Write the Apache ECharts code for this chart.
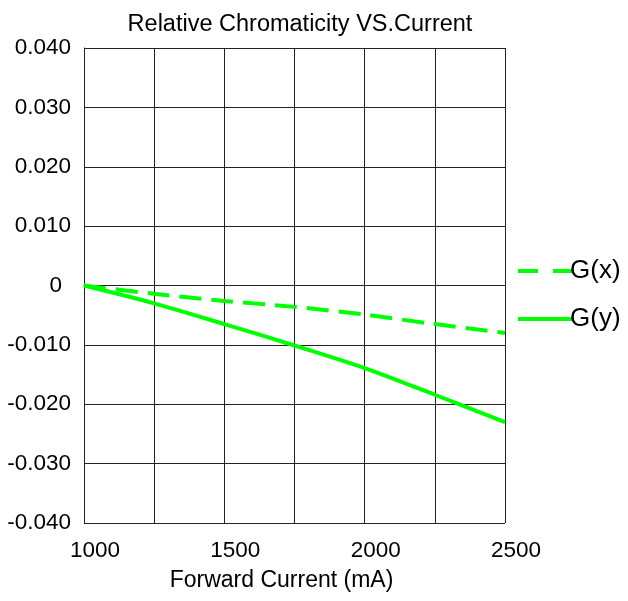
<!DOCTYPE html>
<html>
<head>
<meta charset="utf-8">
<script src="https://cdn.jsdelivr.net/npm/echarts@6/dist/echarts.min.js"></script>
<style>
  html, body { margin: 0; padding: 0; background: #fff; }
  #chart { width: 628px; height: 601px; }
</style>
</head>
<body>
<div id="chart"></div>
<script>
// forward current (mA)
var currents = [1000, 1250, 1500, 1750, 2000, 2250, 2500];
// chromaticity shift
var gx = [0, -0.0014, -0.0026, -0.0036, -0.0049, -0.0065, -0.0080];
var gy = [0, -0.0030, -0.0065, -0.0101, -0.0139, -0.0184, -0.0230];
var seriesNames = ['G(x)', 'G(y)'];

var font = 'Liberation Sans, Arial, sans-serif';
var green = '#00ff00';

function pairs(ys) {
    return currents.map(function (c, i) { return [c, ys[i]]; });
}

var myChart = echarts.init(document.getElementById('chart'));
var option = {
    animation: false,
    title: {
        text: 'Relative Chromaticity VS.Current',
        left: 295,
        textAlign: 'center',
        top: 8,
        textStyle: { fontFamily: font, fontSize: 23.5, fontWeight: 'normal', color: '#000' }
    },
    grid: { left: 84, right: 123, top: 48, bottom: 78 },
    legend: {
        orient: 'vertical',
        left: 513,
        top: 252,
        itemWidth: 55,
        itemHeight: 4,
        itemGap: 20,
        data: [
            { name: seriesNames[0], icon: 'path://M0,0h20v4h-20z M35,0h20v4h-20z' },
            { name: seriesNames[1], icon: 'path://M0,0h55v4h-55z' }
        ],
        itemStyle: { color: green },
        textStyle: { fontFamily: font, fontSize: 26, color: '#000', lineHeight: 28, padding: [0, 0, 0, -8] }
    },
    xAxis: {
        type: 'value',
        min: 1000,
        max: 2500,
        interval: 250,
        name: 'Forward Current (mA)',
        nameLocation: 'middle',
        nameGap: 46,
        nameTextStyle: { fontFamily: font, fontSize: 23, color: '#000', padding: [0, 26, 0, 0] },
        axisLine: { show: true, lineStyle: { color: '#222', width: 1 } },
        axisTick: { show: false },
        splitLine: { show: true, lineStyle: { color: '#222', width: 1 } },
        axisLabel: {
            fontFamily: font, fontSize: 22.5, color: '#000', margin: 16,
            padding: [0, 0, 0, 22],
            formatter: function (v) { return v % 500 === 0 ? String(v) : ''; }
        }
    },
    yAxis: {
        type: 'value',
        min: -0.04,
        max: 0.04,
        interval: 0.01,
        axisLine: { show: true, lineStyle: { color: '#222', width: 1 } },
        axisTick: { show: false },
        splitLine: { show: true, lineStyle: { color: '#222', width: 1 } },
        axisLabel: {
            fontFamily: font, fontSize: 22.5, color: '#000', margin: 13,
            formatter: function (v) {
                if (Math.abs(v) < 1e-9) return '{z|0}';
                return v.toFixed(3);
            },
            rich: {
                z: { fontFamily: font, fontSize: 22.5, color: '#000', padding: [0, 9, 0, 0] }
            }
        }
    },
    series: [
        {
            name: seriesNames[0],
            type: 'line',
            data: pairs(gx),
            symbol: 'none',
            smooth: 0.3,
            lineStyle: { color: green, width: 4, type: [22, 10] },
            itemStyle: { color: green }
        },
        {
            name: seriesNames[1],
            type: 'line',
            data: pairs(gy),
            symbol: 'none',
            smooth: 0.3,
            lineStyle: { color: green, width: 4 },
            itemStyle: { color: green }
        }
    ]
};
myChart.setOption(option);
</script>
</body>
</html>
